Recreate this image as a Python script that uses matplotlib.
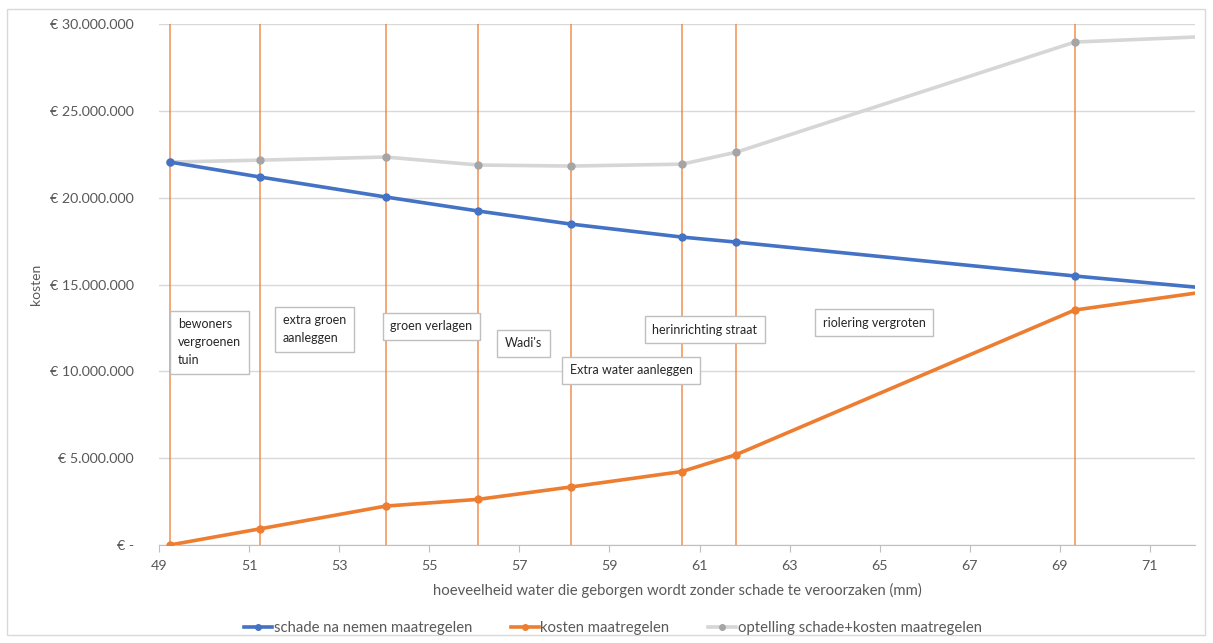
import matplotlib
matplotlib.use('Agg')
import matplotlib.pyplot as plt
from matplotlib.lines import Line2D
from matplotlib.patches import Rectangle

plt.rcParams['font.family'] = ['Lato', 'DejaVu Sans']

# waterberging (mm) per maatregel
x_mm = [49.24, 51.24, 54.03, 56.09, 58.14, 60.61, 61.82, 69.33, 72.0]
# bedragen in euro's
schade = [22050000, 21190000, 20040000, 19230000, 18480000, 17730000, 17440000, 15490000, 14850000]
kosten = [0, 930000, 2240000, 2630000, 3340000, 4230000, 5210000, 13530000, 14500000]
optelling = [22050000, 22160000, 22340000, 21880000, 21820000, 21930000, 22620000, 28960000, 29250000]

# verticale lijnen bij elke maatregel
maatregel_x = [49.24, 51.24, 54.03, 56.09, 58.14, 60.61, 61.82, 69.33]

# tekstvakken: (tekst, x, y)
labels = [
    ("bewoners\nvergroenen\ntuin", 49.42, 13.05e6),
    ("extra groen\naanleggen", 51.75, 13.3e6),
    ("groen verlagen", 54.13, 12.95e6),
    ("Wadi's", 56.68, 11.95e6),
    ("Extra water aanleggen", 58.12, 10.4e6),
    ("herinrichting straat", 59.95, 12.75e6),
    ("riolering vergroten", 63.74, 13.15e6),
]

blauw = '#4472C4'
oranje = '#ED7D31'
grijs_lijn = '#d6d6d6'
grijs_punt = '#a5a5a5'
tekstkleur = '#595959'

fig = plt.figure(figsize=(12.13, 6.43), dpi=100)
ax = fig.add_axes([159/1213, 1 - 545/643, (1195 - 159)/1213, (545 - 24)/643])

# rand om de hele grafiek
fig.patches.append(Rectangle((7/1213, 8/643), 1198/1213, 626/643, transform=fig.transFigure,
                             fill=False, edgecolor='#d9d9d9', lw=1))

ax.vlines(maatregel_x, 0, 30000000, color=oranje, lw=1.1, alpha=0.85, zorder=2)

mk = list(range(len(x_mm) - 1))
ax.plot(x_mm, optelling, color=grijs_lijn, lw=2.6, marker='o', ms=5, mfc=grijs_punt, mec=grijs_punt,
        markevery=mk, zorder=3)
ax.plot(x_mm, schade, color=blauw, lw=2.6, marker='o', ms=5, markevery=mk, zorder=4)
ax.plot(x_mm, kosten, color=oranje, lw=2.6, marker='o', ms=5, markevery=mk, zorder=4)

for tekst, tx, ty in labels:
    ax.text(tx, ty, tekst, ha='left', va='top', fontsize=9, color='#262626', linespacing=1.6,
            zorder=5, bbox=dict(boxstyle='square,pad=0.6', fc='white', ec='#bfbfbf', lw=1))

ax.set_xlim(49, 72)
ax.set_ylim(0, 30000000)
ax.set_xticks(range(49, 72, 2))
yt = list(range(0, 30000001, 5000000))
ax.set_yticks(yt)
ax.set_yticklabels(['€ -'] + ['€ ' + f'{v:,}'.replace(',', '.') for v in yt[1:]])

ax.grid(axis='y', color='#d9d9d9', lw=1)
ax.set_axisbelow(True)
for s in ['top', 'right', 'left']:
    ax.spines[s].set_visible(False)
ax.spines['bottom'].set_color('#bfbfbf')
ax.tick_params(axis='y', length=0, pad=18, labelsize=10.3, labelcolor=tekstkleur)
ax.tick_params(axis='x', length=5, color='#bfbfbf', labelsize=10.3, labelcolor=tekstkleur, pad=6)

ax.set_xlabel('hoeveelheid water die geborgen wordt zonder schade te veroorzaken (mm)',
              fontsize=10.7, color=tekstkleur, labelpad=8)
ax.set_ylabel('kosten', fontsize=10, color=tekstkleur, labelpad=6)

handles = [
    Line2D([], [], color=blauw, lw=2.6, marker='o', ms=4),
    Line2D([], [], color=oranje, lw=2.6, marker='o', ms=4),
    Line2D([], [], color=grijs_lijn, lw=2.6, marker='o', ms=4, mfc=grijs_punt, mec=grijs_punt),
]
fig.legend(handles, ['schade na nemen maatregelen', 'kosten maatregelen',
                     'optelling schade+kosten maatregelen'],
           loc='center', bbox_to_anchor=(613/1213, 1 - 628/643), ncol=3, frameon=False,
           fontsize=10.7, labelcolor=tekstkleur, handlelength=1.9, handletextpad=0.1,
           columnspacing=2.6)

fig.savefig('out.png', dpi=100)
